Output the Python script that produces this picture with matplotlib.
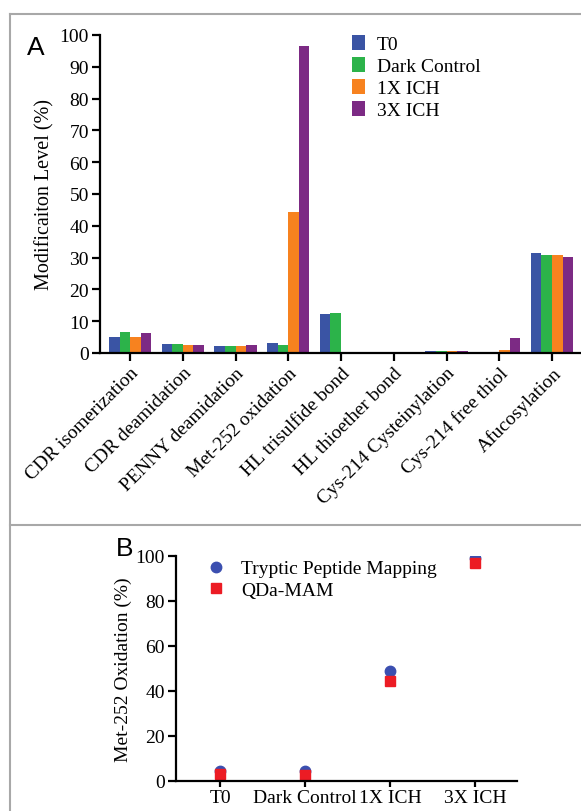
import numpy as np
import matplotlib
matplotlib.use('Agg')
import matplotlib.pyplot as plt
from matplotlib.lines import Line2D

# panel A data
mods = ['CDR isomerization', 'CDR deamidation', 'PENNY deamidation', 'Met-252 oxidation',
        'HL trisulfide bond', 'HL thioether bond', 'Cys-214 Cysteinylation',
        'Cys-214 free thiol', 'Afucosylation']
t0 = [5.1, 2.7, 2.3, 3.1, 12.4, 0.0, 0.7, 0.0, 31.3]
dark = [6.5, 2.7, 2.1, 2.6, 12.6, 0.0, 0.7, 0.0, 30.9]
ich1 = [5.0, 2.6, 2.2, 44.4, 0.0, 0.0, 0.5, 0.8, 30.8]
ich3 = [6.2, 2.5, 2.4, 96.5, 0.0, 0.0, 0.5, 4.6, 30.2]
series_names = ['T0', 'Dark Control', '1X ICH', '3X ICH']
colors = ['#3a54a4', '#2cb34a', '#f7821f', '#7c2a84']

# panel B data
conditions = ['T0', 'Dark Control', '1X ICH', '3X ICH']
tryptic = [4.6, 4.6, 49.0, 99.3]
qda = [3.1, 2.8, 44.6, 97.1]

plt.rcParams['font.family'] = ['Liberation Serif', 'DejaVu Serif']
W, H = 581, 812
fig = plt.figure(figsize=(W / 100, H / 100), dpi=100)


def fx(px):
    return px / W


def fy(py):
    return 1 - py / H


def style_axes(ax):
    for s in ['top', 'right']:
        ax.spines[s].set_visible(False)
    for s in ['left', 'bottom']:
        ax.spines[s].set_linewidth(1.6)
    ax.tick_params(direction='out', length=6, width=1.6, labelsize=14, pad=2)


# ---- panel A ----
axA = fig.add_axes([fx(100), fy(354), 1 - fx(100), fy(36) - fy(354)])
x = np.arange(len(mods))
w = 0.2
for i, (vals, c, n) in enumerate(zip([t0, dark, ich1, ich3], colors, series_names)):
    axA.bar(x + (i - 1.5) * w, vals, w, color=c, label=n)
axA.set_xlim(-0.57, 8.55)
axA.set_ylim(0, 100)
axA.set_yticks(np.arange(0, 101, 10))
axA.set_xticks(x)
axA.set_xticklabels(mods, rotation=45, ha='right', rotation_mode='anchor')
style_axes(axA)
axA.set_ylabel('Modificaiton Level (%)', fontsize=14.5)
axA.yaxis.set_label_coords(-0.094, 0.5)
axA.legend(loc='upper left', bbox_to_anchor=(fx(344), fy(28)), bbox_transform=fig.transFigure,
           frameon=False, fontsize=14, handlelength=0.7, handleheight=0.8,
           handletextpad=0.6, labelspacing=0.2, borderaxespad=0)
fig.text(fx(27), fy(48), 'A', fontsize=19, family='Liberation Sans', va='center')

# ---- panel B ----
axB = fig.add_axes([fx(176), fy(782), fx(517) - fx(176), fy(557) - fy(782)])
xb = np.arange(len(conditions))
axB.plot(xb, tryptic, 'o', color='#3b4fb0', markersize=7.5, label='Tryptic Peptide Mapping')
axB.plot(xb, qda, 's', color='#ec1c24', markersize=7.5, label='QDa-MAM')
axB.set_xlim(-0.52, 3.49)
axB.set_ylim(0, 100)
axB.set_yticks(np.arange(0, 101, 20))
axB.set_xticks(xb)
axB.set_xticklabels(conditions)
style_axes(axB)
axB.tick_params(axis='x', length=4)
axB.set_ylabel('Met-252 Oxidation (%)', fontsize=14)
axB.yaxis.set_label_coords(-0.13, 0.5)
axB.legend(loc='upper left', bbox_to_anchor=(fx(200), fy(553)), bbox_transform=fig.transFigure,
           frameon=False, fontsize=14, handlelength=0.8, handletextpad=0.9,
           labelspacing=0.2, borderaxespad=0)
fig.text(fx(116), fy(549), 'B', fontsize=19, family='Liberation Sans', va='center')

# panel borders
border = '#a8a8a8'
fig.add_artist(Line2D([fx(10), 1], [fy(15), fy(15)], color=border, lw=1.5))
fig.add_artist(Line2D([fx(10), fx(10)], [fy(15), 0], color=border, lw=1.5))
fig.add_artist(Line2D([fx(10), 1], [fy(526), fy(526)], color=border, lw=1.5))

fig.savefig('out.png', dpi=100)
